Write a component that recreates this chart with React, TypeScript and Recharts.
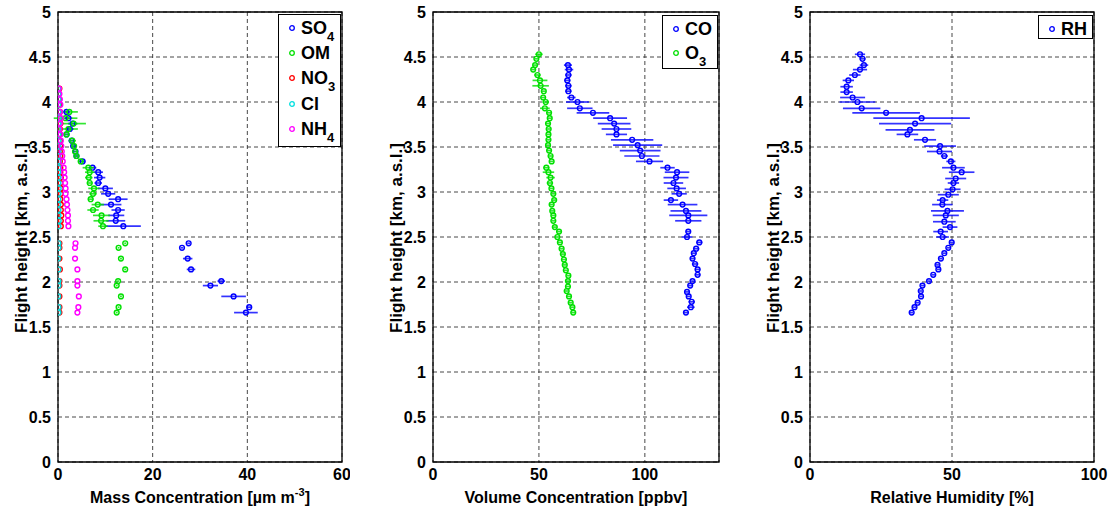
import React from 'react';
import { ScatterChart, Scatter, XAxis, YAxis, CartesianGrid, ErrorBar, ReferenceArea, Label } from 'recharts';

const FONT = "'Liberation Sans', Arial, Helvetica, sans-serif";

// y ticks shared by all three panels (km)
const heightTicks = [0, 0.5, 1, 1.5, 2, 2.5, 3, 3.5, 4, 4.5, 5];

// ---- panel 1: mass concentration ----
const massTicks = [0, 20, 40, 60];
const massHeights = [3.89, 3.82, 3.76, 3.70, 3.64, 3.57, 3.51, 3.45, 3.40, 3.34, 3.27, 3.22, 3.16, 3.10, 3.04, 2.98, 2.92, 2.86, 2.80, 2.74, 2.68, 2.62, 2.43, 2.38, 2.26, 2.14, 2.01, 1.96, 1.84, 1.72, 1.66];
const so4 = [1.8, 2.2, 3.1, 2.5, 1.8, 2.9, 3.2, 3.7, 3.9, 5.2, 7.3, 8.5, 8.8, 8.5, 10.0, 10.6, 12.7, 11.2, 12.7, 12.3, 12.2, 13.8, 27.6, 26.2, 27.4, 28.1, 34.5, 32.2, 37.1, 40.4, 39.7];
const so4Err = [0.5, 0.8, 1.0, 0.8, 0.5, 0.6, 0.5, 0.5, 0.5, 0.6, 0.8, 1.0, 1.2, 0.8, 1.6, 1.5, 2.0, 2.2, 1.4, 1.7, 2.0, 3.7, 0.3, 0.3, 1.0, 0.9, 0.8, 1.6, 2.6, 0.6, 2.5];
const om = [2.4, 1.6, 3.3, 2.2, 1.8, 3.0, 3.4, 3.6, 3.9, 4.8, 6.4, 6.7, 6.5, 6.7, 7.6, 7.4, 6.9, 8.4, 7.4, 9.2, 9.1, 9.5, 14.2, 12.8, 13.3, 14.2, 12.7, 12.4, 13.3, 12.8, 12.4];
const omErr = [1.8, 2.5, 2.6, 2.0, 0.6, 0.8, 0.6, 0.5, 0.4, 0.6, 1.2, 1.0, 0.8, 0.6, 1.2, 0.8, 0.6, 1.3, 1.2, 1.8, 1.6, 1.0, 0.2, 0.2, 0.2, 0.2, 0.2, 0.2, 0.2, 0.2, 0.2];
const ionHeights = [4.15, 4.09, 4.03, 3.97, 3.89, 3.82, 3.76, 3.70, 3.64, 3.57, 3.51, 3.45, 3.40, 3.34, 3.27, 3.22, 3.16, 3.10, 3.04, 2.98, 2.92, 2.86, 2.80, 2.74, 2.68, 2.62, 2.43, 2.38, 2.26, 2.14, 2.01, 1.96, 1.84, 1.72, 1.66];
const no3 = [0.3, 0.2, 0.2, 0.3, 0.4, 0.3, 0.5, 0.4, 0.3, 0.4, 0.5, 0.4, 0.5, 0.4, 0.5, 0.5, 0.6, 0.5, 0.6, 0.6, 0.5, 0.6, 0.6, 0.7, 0.6, 0.6, 0.3, 0.3, 0.3, 0.4, 0.3, 0.3, 0.3, 0.3, 0.3];
const cl = [0.05, 0.1, 0.1, 0.05, 0.1, 0.15, 0.1, 0.05, 0.1, 0.1, 0.05, 0.1, 0.1, 0.15, 0.1, 0.05, 0.1, 0.1, 0.15, 0.1, 0.1, 0.05, 0.1, 0.1, 0.15, 0.1, 0.1, 0.1, 0.05, 0.1, 0.1, 0.1, 0.05, 0.1, 0.1];
const nh4 = [0.2, 0.3, 0.4, 0.5, 0.4, 0.6, 0.4, 0.3, 0.5, 0.6, 0.7, 0.8, 0.9, 1.0, 1.2, 1.3, 1.4, 1.5, 1.6, 1.6, 1.8, 1.9, 2.0, 2.1, 2.1, 2.2, 3.7, 3.6, 3.6, 4.1, 4.1, 4.1, 4.4, 4.3, 4.1];

// ---- panel 2: volume concentration ----
const volTicks = [0, 50, 100];
const coHeights = [4.41, 4.36, 4.30, 4.24, 4.18, 4.12, 4.05, 4.00, 3.93, 3.88, 3.82, 3.76, 3.70, 3.64, 3.58, 3.52, 3.46, 3.40, 3.34, 3.27, 3.22, 3.16, 3.10, 3.04, 2.98, 2.91, 2.86, 2.79, 2.74, 2.68, 2.56, 2.50, 2.44, 2.37, 2.32, 2.26, 2.20, 2.14, 2.08, 2.01, 1.96, 1.89, 1.84, 1.78, 1.72, 1.66];
const co = [63.7, 64.2, 63.9, 63.4, 63.9, 63.9, 65.3, 68.2, 69.3, 75.5, 83.6, 85.5, 86.6, 86.6, 94.0, 96.6, 97.8, 98.6, 102.2, 110.7, 115.2, 114.7, 113.5, 115.0, 116.2, 112.3, 117.8, 119.4, 120.5, 120.5, 120.5, 119.9, 125.7, 124.2, 123.1, 122.5, 123.7, 124.9, 124.9, 122.5, 121.4, 119.9, 120.7, 122.1, 121.7, 119.4];
const coErr = [1.9, 2, 1.5, 1.5, 1.5, 1.5, 2, 5.4, 6, 7.7, 8, 7.7, 7, 5, 10, 11.6, 9.6, 8.3, 6.4, 3.4, 5.8, 5.9, 4.6, 4.4, 3.6, 3.4, 7, 7.3, 9, 6.2, 1.2, 2.5, 1.5, 1.5, 1.2, 1.2, 1.5, 1.3, 1.3, 1, 1, 1, 1, 1.5, 1.8, 1];
const o3Heights = [4.53, 4.48, 4.41, 4.36, 4.30, 4.24, 4.18, 4.12, 4.05, 4.00, 3.93, 3.88, 3.82, 3.76, 3.70, 3.64, 3.58, 3.52, 3.46, 3.40, 3.34, 3.27, 3.22, 3.16, 3.10, 3.04, 2.98, 2.91, 2.86, 2.79, 2.74, 2.68, 2.61, 2.56, 2.50, 2.44, 2.37, 2.31, 2.25, 2.19, 2.13, 2.07, 2.01, 1.95, 1.90, 1.84, 1.77, 1.72, 1.66];
const o3 = [50.0, 48.8, 48.2, 47.3, 49.3, 50.5, 50.8, 52.3, 52.0, 53.2, 52.8, 54.8, 55.1, 54.3, 54.6, 54.5, 54.5, 54.3, 54.8, 55.5, 56.0, 53.5, 54.5, 55.5, 55.2, 55.9, 56.8, 57.2, 56.0, 56.3, 56.8, 56.8, 57.5, 59.5, 58.7, 59.9, 60.7, 61.3, 61.8, 62.2, 62.7, 63.9, 63.7, 63.7, 63.1, 64.2, 65.0, 65.8, 66.2];
const o3Err = [1.8, 1, 1, 1, 1.5, 3.5, 3.9, 1, 1, 1.5, 2.3, 1, 1, 1, 1, 1, 1, 1, 1, 1, 1, 1.5, 2.7, 2, 1.5, 1, 1, 1, 1, 1, 1, 1, 1, 1, 1, 1, 1, 1, 1, 1, 1, 1, 1, 1, 1, 1, 1, 1, 1];

// ---- panel 3: relative humidity ----
const rhTicks = [0, 50, 100];
const rhHeights = [4.53, 4.48, 4.41, 4.36, 4.30, 4.24, 4.17, 4.11, 4.05, 4.00, 3.93, 3.88, 3.82, 3.76, 3.69, 3.64, 3.58, 3.51, 3.45, 3.40, 3.34, 3.27, 3.22, 3.15, 3.10, 3.03, 2.97, 2.91, 2.86, 2.79, 2.74, 2.67, 2.61, 2.56, 2.50, 2.44, 2.38, 2.32, 2.26, 2.19, 2.14, 2.08, 2.01, 1.96, 1.90, 1.84, 1.77, 1.72, 1.66];
const rh = [17.6, 18.5, 19.0, 17.6, 15.8, 13.5, 12.9, 12.9, 15.0, 16.7, 18.2, 26.8, 39.3, 37.0, 35.2, 34.3, 40.5, 45.8, 45.6, 47.3, 49.6, 50.5, 53.4, 51.3, 50.5, 50.2, 48.7, 46.7, 46.6, 48.4, 47.8, 47.3, 49.3, 46.0, 46.7, 49.9, 48.7, 47.3, 46.1, 44.9, 45.2, 43.4, 41.9, 39.6, 39.0, 39.1, 37.9, 36.8, 35.8];
const rhErr = [1.8, 1, 1.5, 2.5, 2, 2, 2.2, 2.2, 4.4, 6.3, 6.6, 11.9, 17, 12.7, 8.6, 3.8, 3.9, 5.6, 4.4, 1.2, 1.6, 4, 4.5, 3.7, 2, 2.8, 3.7, 2, 3.6, 5.8, 4.6, 4, 2.6, 2.6, 2.2, 0.8, 0.6, 0.6, 0.6, 0.6, 0.6, 0.6, 0.6, 0.6, 0.6, 0.6, 0.6, 0.6, 0.6];

type Series = { name: string; color: string; heights: number[]; values: number[]; errors?: number[] };

const toPoints = (s: Series) =>
  s.heights.map((h, i) => ({ x: s.values[i], y: h, e: s.errors ? s.errors[i] : 0 }));

const ring = (color: string) => (props: any) => (
  <circle cx={props.cx} cy={props.cy} r={2.4} fill="none" stroke={color} strokeWidth={1.4} />
);

const tickStyle = { fontSize: 16, fontWeight: 700, fill: '#000', fontFamily: FONT };

function Panel(props: {
  left: number; width: number; plotLeft: number; plotRight: number;
  xMax: number; xTicks: number[]; xLabel: React.ReactNode; series: Series[];
}) {
  const { left, width, plotLeft, plotRight, xMax, xTicks, xLabel, series } = props;
  const ml = plotLeft - left - 40;
  const mr = left + width - plotRight;
  const midX = (plotLeft + plotRight) / 2 - left;
  const labX = plotLeft - left - 37;
  return (
    <div style={{ position: 'absolute', left, top: 0 }}>
      <ScatterChart width={width} height={513} margin={{ top: 12, right: mr, bottom: 0, left: ml }}>
        <CartesianGrid stroke="#333" strokeDasharray="4 3" strokeWidth={0.9} />
        <XAxis type="number" dataKey="x" domain={[0, xMax]} ticks={xTicks} interval={0}
          allowDataOverflow tickLine={false} axisLine={false} height={51} tickSize={4} tickMargin={3} tick={tickStyle}>
          <Label content={() => (
            <text x={midX} y={503} textAnchor="middle" fontSize={16} fontWeight={700} fontFamily={FONT} fill="#000">{xLabel}</text>
          )} />
        </XAxis>
        <YAxis type="number" dataKey="y" domain={[0, 5]} ticks={heightTicks} interval={0}
          tickLine={false} axisLine={false} width={40} tickSize={4} tickMargin={3} tick={tickStyle}>
          <Label content={() => (
            <text x={labX} y={238} transform={`rotate(-90, ${labX}, 238)`} textAnchor="middle" dominantBaseline="central"
              fontSize={17} fontWeight={700} fontFamily={FONT} fill="#000">Flight height [km, a.s.l.]</text>
          )} />
        </YAxis>
        <ReferenceArea x1={0} x2={xMax} y1={0} y2={5} fill="none" stroke="#000" strokeWidth={1.3} ifOverflow="visible" />
        {series.map((s) => (
          <Scatter key={s.name} name={s.name} data={toPoints(s)} shape={ring(s.color)} isAnimationActive={false}>
            {s.errors && (
              <ErrorBar dataKey="e" direction="x" width={0} stroke={s.color} strokeWidth={1.7} strokeOpacity={0.8} />
            )}
          </Scatter>
        ))}
      </ScatterChart>
    </div>
  );
}

function LegendBox(props: { left: number; top: number; width: number; height: number; rowGap: number; items: { label: React.ReactNode; color: string }[] }) {
  const { left, top, width, height, rowGap, items } = props;
  return (
    <div style={{ position: 'absolute', left, top, width, height, border: '1px solid #000', background: '#fff', boxSizing: 'border-box', fontFamily: FONT }}>
      {items.map((it, i) => (
        <div key={i} style={{ position: 'absolute', left: 0, top: 1 + i * rowGap, height: 24, width: '100%' }}>
          <svg width={10} height={10} style={{ position: 'absolute', left: 8, top: 7 }}>
            <circle cx={5} cy={5} r={2.3} fill="none" stroke={it.color} strokeWidth={1.3} />
          </svg>
          <div style={{ position: 'absolute', left: 22, top: 0, fontSize: 18, fontWeight: 700, lineHeight: '24px', whiteSpace: 'nowrap' }}>{it.label}</div>
        </div>
      ))}
    </div>
  );
}

const Sub = ({ children }: { children: React.ReactNode }) => (
  <span style={{ fontSize: 13, position: 'relative', top: 7 }}>{children}</span>
);

export default function App() {
  const massSeries: Series[] = [
    { name: 'SO4', color: '#0000ff', heights: massHeights, values: so4, errors: so4Err },
    { name: 'OM', color: '#00e000', heights: massHeights, values: om, errors: omErr },
    { name: 'NO3', color: '#ff0000', heights: ionHeights, values: no3 },
    { name: 'Cl', color: '#00e0e0', heights: ionHeights, values: cl },
    { name: 'NH4', color: '#ff00ff', heights: ionHeights, values: nh4 },
  ];
  const volSeries: Series[] = [
    { name: 'CO', color: '#0000ff', heights: coHeights, values: co, errors: coErr },
    { name: 'O3', color: '#00e000', heights: o3Heights, values: o3, errors: o3Err },
  ];
  const rhSeries: Series[] = [
    { name: 'RH', color: '#0000ff', heights: rhHeights, values: rh, errors: rhErr },
  ];
  return (
    <div style={{ position: 'absolute', left: 0, top: 0, width: 1115, height: 513, background: '#fff' }}>
      <Panel left={0} width={350} plotLeft={58} plotRight={342} xMax={60} xTicks={massTicks}
        xLabel={<>Mass Concentration [µm m<tspan dy={-7} fontSize={11}>-3</tspan><tspan dy={7}>]</tspan></>}
        series={massSeries} />
      <Panel left={380} width={350} plotLeft={433} plotRight={719} xMax={135} xTicks={volTicks}
        xLabel="Volume Concentration [ppbv]" series={volSeries} />
      <Panel left={757} width={358} plotLeft={810} plotRight={1094} xMax={100} xTicks={rhTicks}
        xLabel="Relative Humidity [%]" series={rhSeries} />
      <LegendBox left={278} top={14} width={63} height={133} rowGap={25.2} items={[
        { label: <>SO<Sub>4</Sub></>, color: '#0000ff' },
        { label: 'OM', color: '#00e000' },
        { label: <>NO<Sub>3</Sub></>, color: '#ff0000' },
        { label: 'Cl', color: '#00e0e0' },
        { label: <>NH<Sub>4</Sub></>, color: '#ff00ff' },
      ]} />
      <LegendBox left={662} top={15} width={56} height={54} rowGap={24} items={[
        { label: 'CO', color: '#0000ff' },
        { label: <>O<Sub>3</Sub></>, color: '#00e000' },
      ]} />
      <LegendBox left={1038} top={15} width={55} height={24} rowGap={24} items={[
        { label: 'RH', color: '#0000ff' },
      ]} />
    </div>
  );
}
